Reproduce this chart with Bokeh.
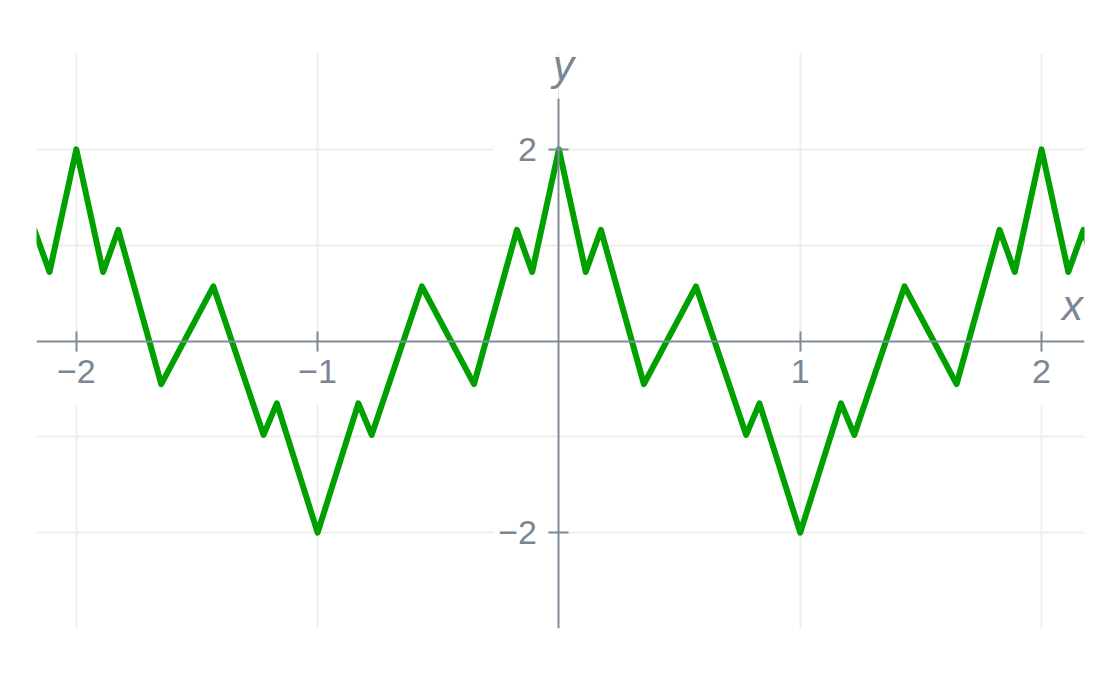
from bokeh.plotting import figure
from bokeh.models import (LinearAxis, Grid, FixedTicker, Range1d, BoxAnnotation, Label,
                          ColumnDataSource)
from bokeh.embed import file_html
from bokeh.resources import INLINE

# ---- data (vertices) ----
x_vals = [-2.352, -2.174, -2.111, -2.0, -1.889, -1.826, -1.648, -1.432, -1.224, -1.169,
          -1.0, -0.831, -0.776, -0.568, -0.352, -0.174, -0.111, 0.0, 0.111, 0.174,
          0.352, 0.568, 0.776, 0.831, 1.0, 1.169, 1.224, 1.432, 1.648, 1.826,
          1.889, 2.0, 2.111, 2.174, 2.352]
y_vals = [-0.45, 1.16, 0.72, 2.0, 0.72, 1.16, -0.45, 0.57, -0.98, -0.65,
          -2.0, -0.65, -0.98, 0.57, -0.45, 1.16, 0.72, 2.0, 0.72, 1.16,
          -0.45, 0.57, -0.98, -0.65, -2.0, -0.65, -0.98, 0.57, -0.45, 1.16,
          0.72, 2.0, 0.72, 1.16, -0.45]
x_ticks = [-2, -1, 1, 2]
y_ticks = [-2, -1, 1, 2]
y_labeled = [-2, 2]
x_tick_labels = {-2: "\u22122", -1: "\u22121", 1: "1", 2: "2"}
y_tick_labels = {-2: "\u22122", -1: "", 1: "", 2: "2"}

FONT = "Liberation Sans"
AXIS_COL = "#7f8b97"
TEXT_COL = "#7a8693"
GRID_COL = "#eeeeee"

p = figure(width=1112, height=674, output_backend="svg", toolbar_location=None,
           x_axis_location=None, y_axis_location=None,
           x_range=Range1d(-2.165, 2.178), y_range=Range1d(-3.0, 3.0),
           min_border_left=36, min_border_right=28, min_border_top=53, min_border_bottom=46)
p.outline_line_color = None
p.background_fill_color = "white"

# grids
xg = Grid(dimension=0, ticker=FixedTicker(ticks=x_ticks), grid_line_color=GRID_COL, grid_line_width=2)
yg = Grid(dimension=1, ticker=FixedTicker(ticks=y_ticks), grid_line_color=GRID_COL, grid_line_width=2)
p.add_layout(xg)
p.add_layout(yg)

# white backgrounds behind tick labels (break the grid lines)
for t in x_ticks:
    p.add_layout(BoxAnnotation(left=t - 0.05, right=t + 0.05, top=-0.115, bottom=-0.67,
                               fill_color="white", fill_alpha=1, line_color=None, level="glyph"))
for t in y_labeled:
    p.add_layout(BoxAnnotation(left=-0.27, right=-0.045, top=t + 0.1, bottom=t - 0.1,
                               fill_color="white", fill_alpha=1, line_color=None, level="glyph"))

# curve
src = ColumnDataSource(data=dict(x=x_vals, y=y_vals))
p.line("x", "y", source=src, line_color="#00a000", line_width=6, line_join="round")

# axes through the origin
xa = LinearAxis(fixed_location=0, ticker=FixedTicker(ticks=x_ticks))
xa.major_label_overrides = x_tick_labels
ya = LinearAxis(fixed_location=0, ticker=FixedTicker(ticks=y_labeled), bounds=(-3.0, 2.53))
ya.major_label_overrides = y_tick_labels
for ax in (xa, ya):
    ax.axis_line_color = AXIS_COL
    ax.axis_line_width = 2
    ax.major_tick_line_color = AXIS_COL
    ax.major_tick_line_width = 2
    ax.major_tick_in = 10
    ax.major_tick_out = 10
    ax.minor_tick_line_color = None
    ax.major_label_text_font = FONT
    ax.major_label_text_font_size = "34px"
    ax.major_label_text_color = TEXT_COL
xa.major_label_standoff = 9
ya.major_label_standoff = 12
p.add_layout(xa, "below")
p.add_layout(ya, "left")

# axis titles
p.add_layout(Label(x=2.128, y=0.37, text="x", text_font=FONT, text_font_style="italic",
                   text_font_size="42px", text_color=TEXT_COL, text_align="center",
                   text_baseline="alphabetic"))
p.add_layout(Label(x=0.019, y=2.88, text="y", text_font=FONT, text_font_style="italic",
                   text_font_size="42px", text_color=TEXT_COL, text_align="center",
                   text_baseline="alphabetic"))

open("out.html", "w").write(file_html(p, INLINE))
